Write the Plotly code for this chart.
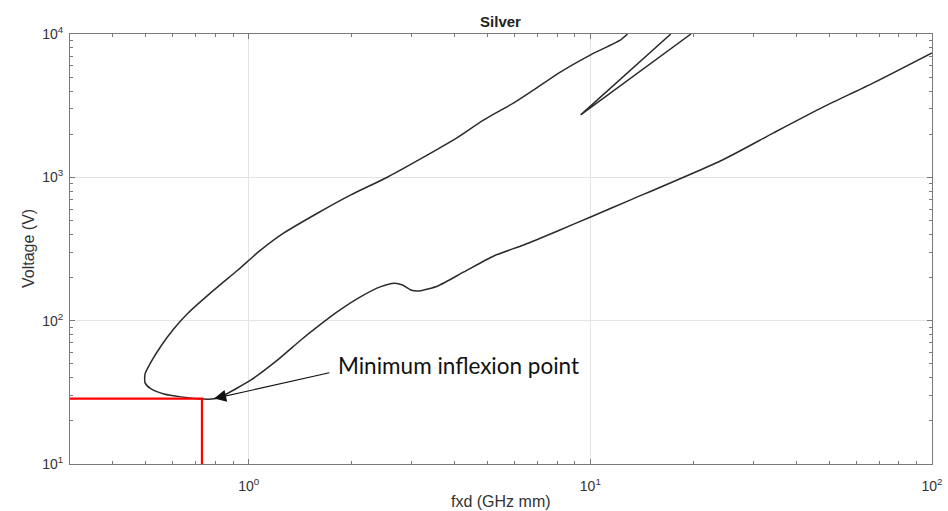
import numpy as np
import plotly.graph_objects as go

# Main susceptibility curve (upper branch from top, around the nose, lower branch to the right)
curve_fxd = [12.85, 12.27, 10.02, 8.19, 6.83, 5.97, 4.88, 3.98, 3.34, 2.555, 1.991, 1.594,
             1.268, 1.086, 0.930, 0.786, 0.665, 0.600, 0.554, 0.518, 0.4975, 0.4975, 0.518,
             0.565, 0.634, 0.735, 0.792, 0.849, 1.016, 1.216, 1.422, 1.591, 1.82, 2.13, 2.437,
             2.666, 2.821, 2.982, 3.147, 3.577, 4.262, 5.216, 6.383, 8.024, 10.02, 13.12,
             24.37, 34.36, 48.1, 67.4, 100.0]
curve_volt = [10000, 9096, 7148, 5440, 4073, 3306, 2515, 1824, 1433, 1006, 754, 564,
              409, 311.4, 225.8, 161.2, 113, 86.1, 66.6, 51.5, 42.5, 36.8, 33.4,
              30.8, 29.4, 28.4, 28.5, 30.3, 38.6, 53.2, 73.3, 90.8, 115.6, 147.1, 172.7,
              182.4, 177.5, 163.8, 161.2, 174.7, 218.7, 282.8, 337.6, 422.7, 529.3, 695.7,
              1322, 2041, 3099, 4558, 7382]

# Secondary V-shaped branch
v_fxd = [17.2, 9.37, 19.7]
v_volt = [10000, 2726, 10000]

# Minimum inflexion point (red guide lines)
min_fxd = 0.73
min_volt = 28.6
x_left = 0.3
y_bottom = 10

# Annotation
arrow_tip = (0.792, 28.6)
arrow_tail = (1.74, 43.5)
label_pos = (1.80, 48.3)
label_text = "Minimum inflexion point"

x_title = "fxd (GHz mm)"
y_title = "Voltage (V)"
x_major = [1, 10, 100]
x_major_text = ["10<sup>0</sup>", "10<sup>1</sup>", "10<sup>2</sup>"]
y_major = [10, 100, 1000, 10000]
y_major_text = ["10<sup>1</sup>", "10<sup>2</sup>", "10<sup>3</sup>", "10<sup>4</sup>"]
x_minor = [0.4, 0.5, 0.6, 0.7, 0.8, 0.9, 2, 3, 4, 5, 6, 7, 8, 9,
           20, 30, 40, 50, 60, 70, 80, 90]
y_minor = [20, 30, 40, 50, 60, 70, 80, 90, 200, 300, 400, 500, 600, 700, 800, 900,
           2000, 3000, 4000, 5000, 6000, 7000, 8000, 9000]

axis_col = "#7a7a7a"
tick_font = dict(family="Liberation Sans, Arial", size=14, color="#333333")
label_font = dict(family="Liberation Sans, Arial", size=16, color="#333333")

fig = go.Figure()
fig.add_trace(go.Scatter(x=curve_fxd, y=curve_volt, mode="lines",
                         line=dict(color="#2b2b2b", width=1.5, shape="spline", smoothing=0.6),
                         showlegend=False, hoverinfo="skip"))
fig.add_trace(go.Scatter(x=v_fxd, y=v_volt, mode="lines",
                         line=dict(color="#2b2b2b", width=1.5),
                         showlegend=False, hoverinfo="skip"))
fig.add_trace(go.Scatter(x=[x_left, min_fxd, min_fxd], y=[min_volt, min_volt, y_bottom],
                         mode="lines", line=dict(color="#ff0000", width=2.2),
                         showlegend=False, hoverinfo="skip"))

fig.add_annotation(x=np.log10(arrow_tip[0]), y=np.log10(arrow_tip[1]),
                   ax=np.log10(arrow_tail[0]), ay=np.log10(arrow_tail[1]),
                   axref="x", ayref="y", xref="x", yref="y",
                   text="", showarrow=True, arrowhead=2, arrowsize=2.2,
                   arrowwidth=1.1, arrowcolor="#111111")
fig.add_annotation(x=np.log10(label_pos[0]), y=np.log10(label_pos[1]), xref="x", yref="y",
                   text=label_text, showarrow=False, xanchor="left", yanchor="middle",
                   font=dict(family="Lato, Open Sans", size=22.5, color="#111111"))
# axis titles
fig.add_annotation(x=0.5, y=0, xref="paper", yref="paper", text=x_title, showarrow=False,
                   xanchor="center", yanchor="top", yshift=-27, font=label_font)
fig.add_annotation(x=0, y=0.5, xref="paper", yref="paper", text=y_title, showarrow=False,
                   xanchor="center", yanchor="middle", xshift=-42, textangle=-90, font=label_font)

fig.update_layout(
    width=948, height=511,
    margin=dict(l=70, r=16, t=34, b=47),
    paper_bgcolor="white", plot_bgcolor="white",
    title=dict(text="<b>Silver</b>", x=0.528, xanchor="center", y=0.957, yanchor="middle",
               font=dict(family="Liberation Sans, Arial", size=15, color="#222222")),
    font=dict(family="Liberation Sans, Arial"),
)
fig.update_xaxes(type="log", range=[np.log10(x_left), 2], automargin=False,
                 tickvals=x_major, ticktext=x_major_text, tickfont=tick_font,
                 ticks="inside", ticklen=5, tickcolor=axis_col, ticklabelstandoff=9,
                 showline=True, linecolor=axis_col, linewidth=1, mirror="ticks",
                 showgrid=True, gridcolor="#e4e4e4", gridwidth=1, zeroline=False,
                 minor=dict(tickvals=x_minor, ticks="inside", ticklen=3, tickcolor=axis_col, showgrid=False))
fig.update_yaxes(type="log", range=[1, 4], automargin=False,
                 tickvals=y_major, ticktext=y_major_text, tickfont=tick_font,
                 ticks="inside", ticklen=5, tickcolor=axis_col, ticklabelstandoff=3,
                 showline=True, linecolor=axis_col, linewidth=1, mirror="ticks",
                 showgrid=True, gridcolor="#e4e4e4", gridwidth=1, zeroline=False,
                 minor=dict(tickvals=y_minor, ticks="inside", ticklen=3, tickcolor=axis_col, showgrid=False))

fig.write_html("out.html")
